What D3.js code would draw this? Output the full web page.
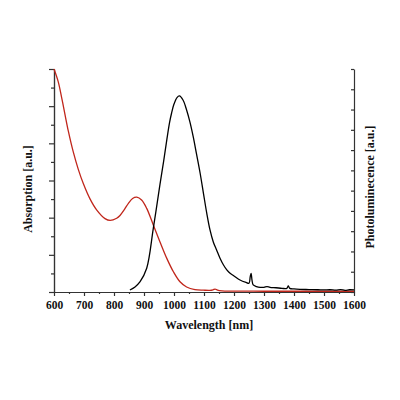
<!DOCTYPE html>
<html>
  <head>
    <title>Absorption / PL</title>
    <script src="https://d3js.org/d3.v7.min.js" charset="utf-8"></script>
    <style>
      body { margin: 0; background: white; }
      text { font-family: "Liberation Serif", "Times New Roman", serif; font-weight: bold; fill: #111; }
      .axis path, .axis line { stroke: #333; stroke-width: 1.2; }
    </style>
  </head>
  <body>
    <script>
      // absorption (red), left axis, arbitrary units
      var absWl  = [600, 614, 626, 637, 648, 664, 681, 698, 720, 742, 770, 787, 809, 820, 835, 848, 862, 876, 892, 909, 931, 953, 976, 998, 1020, 1042, 1070, 1098, 1120, 1130, 1137, 1145, 1160, 1200, 1300, 1400, 1500, 1600];
      var absVal = [1.200, 1.132, 1.042, 0.952, 0.864, 0.755, 0.660, 0.582, 0.501, 0.442, 0.395, 0.385, 0.397, 0.412, 0.445, 0.477, 0.503, 0.510, 0.495, 0.450, 0.361, 0.271, 0.181, 0.109, 0.055, 0.027, 0.013, 0.010, 0.009, 0.012, 0.016, 0.010, 0.006, 0.005, 0.004, 0.004, 0.004, 0.004];

      // photoluminescence (black), right axis, arbitrary units
      var plWl  = [853, 870, 887, 909, 931, 953, 965, 976, 985, 992, 1000, 1010, 1018, 1030, 1042, 1053, 1064, 1075, 1087, 1098, 1109, 1120, 1131, 1142, 1153, 1165, 1176, 1187, 1200, 1220, 1240, 1250, 1254, 1257, 1260, 1264, 1275, 1287, 1300, 1310, 1320, 1340, 1360, 1376, 1381, 1386, 1400, 1420, 1450, 1480, 1500, 1520, 1540, 1555, 1570, 1585, 1600];
      var plVal = [0.010, 0.025, 0.051, 0.117, 0.314, 0.528, 0.641, 0.750, 0.834, 0.883, 0.927, 0.959, 0.967, 0.947, 0.898, 0.839, 0.766, 0.681, 0.587, 0.488, 0.390, 0.306, 0.247, 0.207, 0.168, 0.133, 0.109, 0.092, 0.079, 0.059, 0.047, 0.043, 0.075, 0.092, 0.059, 0.035, 0.027, 0.023, 0.023, 0.027, 0.023, 0.021, 0.018, 0.018, 0.030, 0.018, 0.015, 0.013, 0.012, 0.011, 0.010, 0.011, 0.009, 0.012, 0.008, 0.011, 0.010];

      var xMajor = d3.range(600, 1601, 100);
      var xMinor = d3.range(650, 1600, 100);

      var width = 400, height = 400;
      var mLeft = 54, mRight = 354, mTop = 69, mBottom = 292;

      var svg = d3.select("body").append("svg")
        .attr("width", width)
        .attr("height", height);

      var x = d3.scaleLinear().domain([600, 1600]).range([mLeft, mRight]);
      var yAbs = d3.scaleLinear().domain([0, 1.2]).range([mBottom, mTop]);
      var yPl = d3.scaleLinear().domain([0, 1.1]).range([mBottom, mTop]);

      // bottom axis
      svg.append("g").attr("class", "axis")
        .attr("transform", "translate(0," + mBottom + ")")
        .call(d3.axisBottom(x).tickValues(xMinor).tickSize(2).tickFormat("").tickSizeOuter(0));
      var xa = svg.append("g").attr("class", "axis")
        .attr("transform", "translate(0," + mBottom + ")")
        .call(d3.axisBottom(x).tickValues(xMajor).tickSize(4).tickPadding(5).tickSizeOuter(0).tickFormat(d3.format("d")));
      xa.selectAll("text").style("font-size", "11.5px").attr("fill", "#111");

      // left axis
      svg.append("g").attr("class", "axis")
        .attr("transform", "translate(" + mLeft + ",0)")
        .call(d3.axisLeft(yAbs).tickValues(d3.range(0.1, 1.2, 0.2)).tickSize(3).tickFormat("").tickSizeOuter(0));
      svg.append("g").attr("class", "axis")
        .attr("transform", "translate(" + mLeft + ",0)")
        .call(d3.axisLeft(yAbs).tickValues(d3.range(0, 1.21, 0.2)).tickSize(5).tickFormat("").tickSizeOuter(0));

      // right axis, ticks pointing in
      svg.append("g").attr("class", "axis")
        .attr("transform", "translate(" + mRight + ",0)")
        .call(d3.axisRight(yPl).tickValues(d3.range(0, 1.11, 0.1)).tickSize(-3).tickFormat("").tickSizeOuter(0));

      var absLine = d3.line()
        .x(function(d, i) { return x(absWl[i]); })
        .y(function(d) { return yAbs(d); })
        .curve(d3.curveCatmullRom);
      var plLine = d3.line()
        .x(function(d, i) { return x(plWl[i]); })
        .y(function(d) { return yPl(d); })
        .curve(d3.curveCatmullRom);

      svg.append("path")
        .attr("d", absLine(absVal))
        .attr("fill", "none")
        .attr("stroke", "#c0261b")
        .attr("stroke-width", 1.3);

      svg.append("path")
        .attr("d", plLine(plVal))
        .attr("fill", "none")
        .attr("stroke", "#000")
        .attr("stroke-width", 1.3);

      // axis titles
      svg.append("text")
        .attr("x", (mLeft + mRight) / 2 + 5)
        .attr("y", 329)
        .attr("text-anchor", "middle")
        .style("font-size", "12px")
        .text("Wavelength [nm]");

      svg.append("text")
        .attr("transform", "translate(32,189) rotate(-90)")
        .attr("text-anchor", "middle")
        .style("font-size", "12px")
        .text("Absorption [a.u.]");

      svg.append("text")
        .attr("transform", "translate(374,187) rotate(-90)")
        .attr("text-anchor", "middle")
        .style("font-size", "12px")
        .text("Photoluminecence [a.u.]");
    </script>
  </body>
</html>
